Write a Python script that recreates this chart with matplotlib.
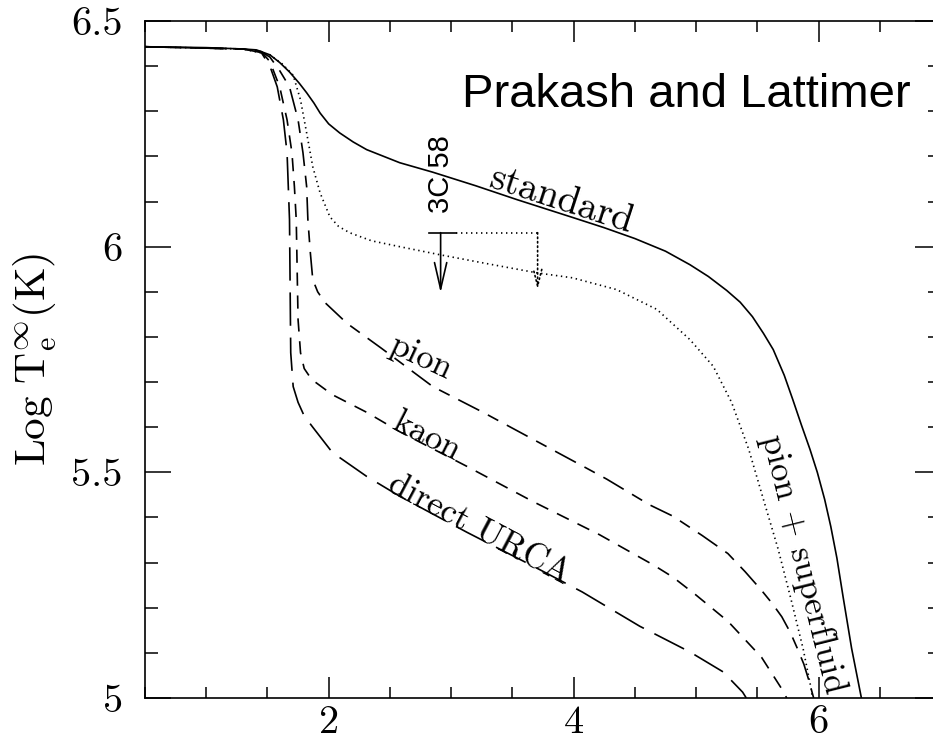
import matplotlib
matplotlib.use('Agg')
import matplotlib.pyplot as plt
from matplotlib.ticker import MultipleLocator, FixedLocator, FixedFormatter

plt.rcParams['font.family'] = 'cmr10'
plt.rcParams['mathtext.fontset'] = 'cm'
plt.rcParams['axes.formatter.use_mathtext'] = True
plt.rcParams['lines.scale_dashes'] = False

# cooling curves (x axis, log Te)
std_x = [0.50, 1.00, 1.30, 1.41, 1.52, 1.60, 1.68, 1.76, 1.82, 1.88, 1.93, 2.00, 2.09,
         2.20, 2.31, 2.58, 2.85, 3.20, 3.54, 4.00, 4.25, 4.50, 4.75, 4.95, 5.10, 5.25,
         5.36, 5.46, 5.55, 5.63, 5.72, 5.79, 5.86, 5.93, 5.99, 6.05, 6.10, 6.15, 6.20,
         6.27, 6.35]
std_y = [6.443, 6.441, 6.438, 6.436, 6.425, 6.408, 6.387, 6.362, 6.341, 6.318, 6.296,
         6.272, 6.252, 6.232, 6.215, 6.186, 6.165, 6.135, 6.104, 6.064, 6.042, 6.018,
         5.990, 5.960, 5.934, 5.903, 5.877, 5.845, 5.808, 5.772, 5.715, 5.661, 5.605,
         5.551, 5.500, 5.440, 5.380, 5.310, 5.225, 5.110, 5.000]

sf_x = [0.50, 1.30, 1.52, 1.62, 1.71, 1.77, 1.82, 1.87, 1.93, 2.01, 2.08, 2.17, 2.35,
        2.58, 2.91, 3.30, 3.70, 3.99, 4.35, 4.68, 4.95, 5.14, 5.29, 5.43, 5.55, 5.67,
        5.775, 5.875, 5.94, 5.95]
sf_y = [6.443, 6.438, 6.425, 6.405, 6.380, 6.325, 6.252, 6.177, 6.119, 6.066, 6.045,
        6.031, 6.013, 6.000, 5.982, 5.962, 5.942, 5.931, 5.905, 5.861, 5.794, 5.735,
        5.655, 5.551, 5.440, 5.330, 5.219, 5.108, 5.020, 5.000]

pion_x = [0.50, 1.30, 1.45, 1.52, 1.60, 1.68, 1.75, 1.79, 1.82, 1.83, 1.85, 1.87, 1.91,
          1.97, 2.15, 2.43, 2.85, 3.26, 3.67, 4.08, 4.27, 4.62, 4.81, 5.05, 5.26, 5.40,
          5.53, 5.62, 5.70, 5.77, 5.83, 5.88, 5.92, 5.96]
pion_y = [6.443, 6.438, 6.432, 6.420, 6.390, 6.354, 6.281, 6.208, 6.133, 6.060, 5.987,
          5.927, 5.900, 5.876, 5.830, 5.775, 5.690, 5.633, 5.573, 5.513, 5.485, 5.428,
          5.403, 5.360, 5.320, 5.280, 5.240, 5.210, 5.180, 5.145, 5.108, 5.075, 5.040,
          5.000]

kaon_x = [0.50, 1.30, 1.45, 1.52, 1.60, 1.66, 1.70, 1.72, 1.735, 1.74, 1.745, 1.75,
          1.77, 1.80, 1.86, 2.03, 2.31, 2.58, 3.13, 3.67, 4.21, 4.65, 4.81, 5.00, 5.26,
          5.535, 5.70, 5.74]
kaon_y = [6.443, 6.438, 6.432, 6.410, 6.354, 6.281, 6.208, 6.133, 6.060, 5.987, 5.910,
          5.838, 5.765, 5.730, 5.706, 5.672, 5.633, 5.590, 5.513, 5.435, 5.362, 5.295,
          5.268, 5.228, 5.170, 5.090, 5.020, 5.000]

urca_x = [0.50, 1.30, 1.45, 1.52, 1.58, 1.63, 1.66, 1.68, 1.685, 1.69, 1.71, 1.75, 1.80,
          1.87, 2.03, 2.31, 2.58, 3.13, 3.67, 4.07, 4.54, 4.95, 5.22, 5.38, 5.41]
urca_y = [6.443, 6.438, 6.430, 6.400, 6.354, 6.281, 6.208, 6.060, 5.912, 5.765, 5.690,
          5.655, 5.625, 5.600, 5.544, 5.491, 5.447, 5.367, 5.292, 5.235, 5.159, 5.102,
          5.058, 5.013, 5.000]

# 3C 58 upper limit
obs_x = 2.914
obs_bar = [2.816, 3.037]
obs_dot_x = 3.706
obs_y = 6.031
obs_tip = 5.898
obs_dot_tip = 5.905

yticks = [5.0, 5.5, 6.0, 6.5]
yticklabels = ['5', '5.5', '6', '6.5']
xticks = [2, 4, 6]
xticklabels = ['2', '4', '6']

fig = plt.figure(figsize=(9.33, 7.41), dpi=100)
ax = fig.add_axes([145/933, 43/741, 796/933, 677/741])

lw = 1.2
ax.plot(std_x, std_y, c='k', lw=lw, ls='-')
ax.plot(sf_x, sf_y, c='k', lw=lw, dashes=(1.0, 2.6))
ax.plot(pion_x, pion_y, c='k', lw=lw, dashes=(17, 7, 8.5, 7))
ax.plot(kaon_x, kaon_y, c='k', lw=lw, dashes=(9.5, 7))
ax.plot(urca_x, urca_y, c='k', lw=lw, dashes=(24, 8.5))

# observation
ax.plot(obs_bar, [obs_y, obs_y], c='k', lw=lw)
ax.plot([obs_bar[1], obs_dot_x], [obs_y, obs_y], c='k', lw=lw, dashes=(1.0, 2.6))
ax.annotate('', xy=(obs_x, obs_tip), xytext=(obs_x, obs_y),
            arrowprops=dict(arrowstyle='->,head_length=0.95,head_width=0.22',
                            lw=lw, color='k', shrinkA=0, shrinkB=0),
            fontsize=20)
ax.annotate('', xy=(obs_dot_x, obs_dot_tip), xytext=(obs_dot_x, obs_y),
            arrowprops=dict(arrowstyle='->,head_length=0.6,head_width=0.15',
                            lw=lw, color='k', ls=(0, (1.0, 2.2)),
                            shrinkA=0, shrinkB=0),
            fontsize=20)
ax.text(obs_x, 6.161, '3C 58', rotation=90, ha='center', va='center',
        fontsize=21, family='Liberation Sans')

# curve labels
lab_kw = dict(ha='center', va='center', rotation_mode='anchor', fontsize=25)
ax.text(3.90, 6.102, 'standard', rotation=-18, fontsize=28,
        ha='center', va='center', rotation_mode='anchor')
ax.text(2.75, 5.754, 'pion', rotation=-25, **lab_kw)
ax.text(2.80, 5.580, 'kaon', rotation=-27, **lab_kw)
ax.text(3.23, 5.374, 'direct URCA', rotation=-28, **lab_kw)
ax.text(5.87, 5.296, 'pion + superfluid', rotation=-76, **lab_kw)

ax.text(3.09, 6.31, 'Prakash and Lattimer', ha='left', va='baseline',
        fontsize=34, family='Liberation Sans')

ax.set_xlim(0.5, 7.0)
ax.set_ylim(5.0, 6.5)

ax.xaxis.set_major_locator(FixedLocator(xticks))
ax.xaxis.set_major_formatter(FixedFormatter(xticklabels))
ax.xaxis.set_minor_locator(MultipleLocator(0.5))
ax.yaxis.set_major_locator(FixedLocator(yticks))
ax.yaxis.set_major_formatter(FixedFormatter(yticklabels))
ax.yaxis.set_minor_locator(MultipleLocator(0.1))

ax.tick_params(axis='both', which='both', direction='in', top=True, right=True,
               width=1.1, labelsize=29)
ax.tick_params(axis='x', which='major', length=15, pad=5)
ax.tick_params(axis='x', which='minor', length=8)
ax.tick_params(axis='y', which='major', length=19, pad=16)
ax.tick_params(axis='y', which='minor', length=9.5)
for s in ax.spines.values():
    s.set_linewidth(1.2)

ax.set_ylabel(r'$\mathrm{Log\ T_e^{\infty}(K)}$', fontsize=31)
ax.yaxis.set_label_coords(-0.108, 0.5)

fig.savefig('out.png', dpi=100)
